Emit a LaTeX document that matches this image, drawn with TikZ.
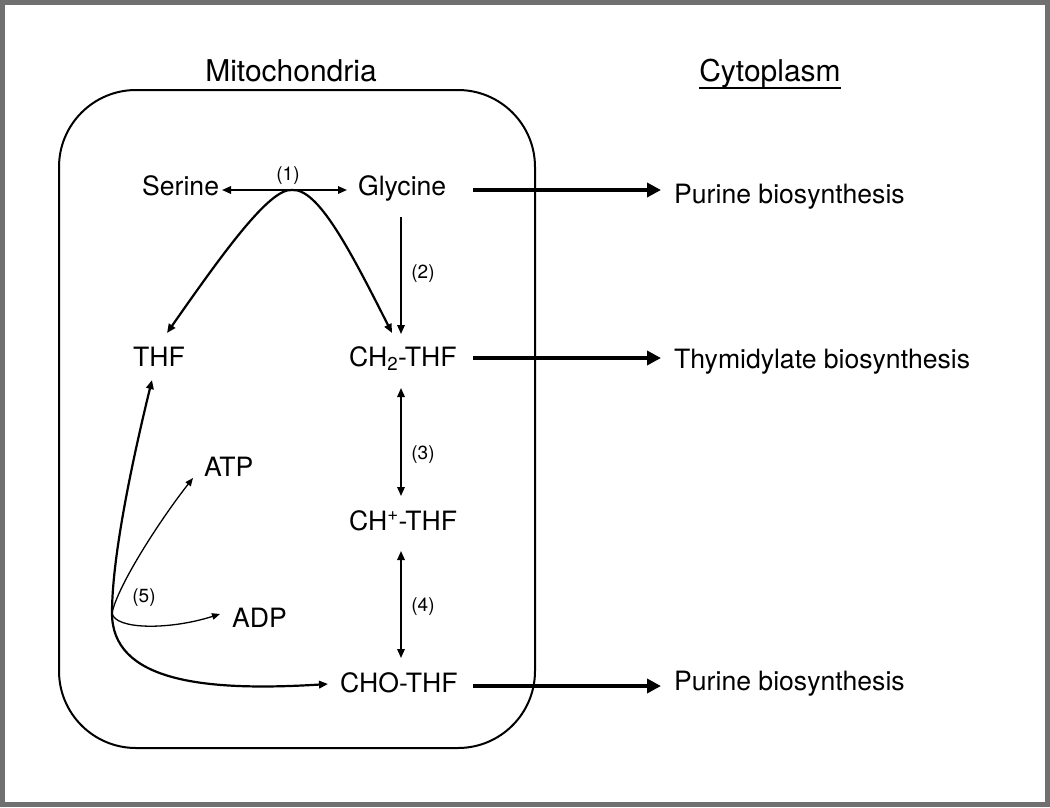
\documentclass[tikz,border=0pt]{standalone}
\usepackage{fontspec}
\setmainfont{TeX Gyre Heros}
\usetikzlibrary{arrows.meta,calc}
\definecolor{framegray}{RGB}{112,112,112}
\begin{document}
\begin{tikzpicture}[x=1pt,y=-1pt,
  >={Triangle[length=9pt,width=7.5pt]},
  lbl/.style={inner sep=0pt, anchor=base west, font=\fontsize{26.6}{30}\selectfont},
  num/.style={inner sep=0pt, font=\fontsize{19}{22}\selectfont},
  ttl/.style={inner sep=0pt, anchor=base, font=\fontsize{30}{34}\selectfont},
  arr/.style={line width=1.6pt},
  curv/.style={line width=2.2pt},
  fine/.style={line width=1.3pt, -{Triangle[length=8pt,width=6.5pt]}},
  thk/.style={line width=4pt, -{Triangle[length=14pt,width=14pt]}}
]
\useasboundingbox (0,0) rectangle (1050,807);
\fill[white] (0,0) rectangle (1050,807);
\draw[line width=5pt, framegray] (2.5,2.5) rectangle (1047.5,804.5);

% compartment
\draw[line width=2pt, rounded corners=77pt] (59,90) rectangle (535,748);

% titles
\node[ttl] (mito) at (291,81) {Mitochondria};
\node[ttl] (cyto) at (770,81) {Cytoplasm};
\draw[line width=1.8pt] ($(cyto.base west)+(0,7)$) -- ($(cyto.base east)+(0,7)$);

% metabolites
\node[lbl] (ser) at (142,195) {Serine};
\node[lbl] (gly) at (358,195) {Glycine};
\node[lbl] (thf) at (133,366) {THF};
\node[lbl] (ch2) at (349,366) {CH\textsubscript{2}-THF};
\node[lbl] (chp) at (349,530) {CH\textsuperscript{+}-THF};
\node[lbl] (cho) at (340,692) {CHO-THF};
\node[lbl] (atp) at (204,476) {ATP};
\node[lbl] (adp) at (232,627) {ADP};
\node[lbl] (pur1) at (674,203) {Purine biosynthesis};
\node[lbl] (thy) at (674,368) {Thymidylate biosynthesis};
\node[lbl] (pur2) at (674,690) {Purine biosynthesis};

% reaction numbers
\node[num] (r1) at (288,176) {(1)};
\node[num] (r2) at (423,274) {(2)};
\node[num] (r3) at (423,455) {(3)};
\node[num] (r4) at (423,607) {(4)};
\node[num] (r5) at (144,598) {(5)};

% reaction (1)
\coordinate (apex) at (292,190);
\draw[arr, <->] ($(ser.base west)+(80,-5)$) -- ($(gly.base west)+(-11,-5)$);
\draw[curv, <->] ($(thf.base west)+(34,-33)$) .. controls (225,250) and (270,188) .. (apex)
  .. controls (318,188) and (350,250) .. ($(ch2.base west)+(43,-33)$);

% (2), (3), (4)
\draw[arr, ->] ($(gly.base west)+(43,22)$) -- ($(ch2.base west)+(52,-32)$);
\draw[arr, <->] ($(ch2.base west)+(52,22)$) -- ($(chp.base west)+(52,-34)$);
\draw[arr, <->] ($(chp.base west)+(52,21)$) -- ($(cho.base west)+(61,-34)$);

% export arrows
\draw[thk] ($(gly.base west)+(115,-5)$) -- ($(pur1.base west)+(-13,-13)$);
\draw[thk] ($(ch2.base west)+(124,-8)$) -- ($(thy.base west)+(-13,-10)$);
\draw[thk] ($(cho.base west)+(133,-6)$) -- ($(pur2.base west)+(-13,-4)$);

% reaction (5)
\coordinate (junc) at (112,613);
\draw[curv, <->] ($(thf.base west)+(19,14)$) .. controls (130,470) and (112,560) .. (junc)
  .. controls (112,680) and (200,692) .. ($(cho.base west)+(-12,-8)$);
\draw[fine] (junc) .. controls (118,585) and (160,520) .. ($(atp.base west)+(-11,2)$);
\draw[fine] (junc) .. controls (115,630) and (170,630) .. ($(adp.base west)+(-12,-13)$);
\end{tikzpicture}
\end{document}
